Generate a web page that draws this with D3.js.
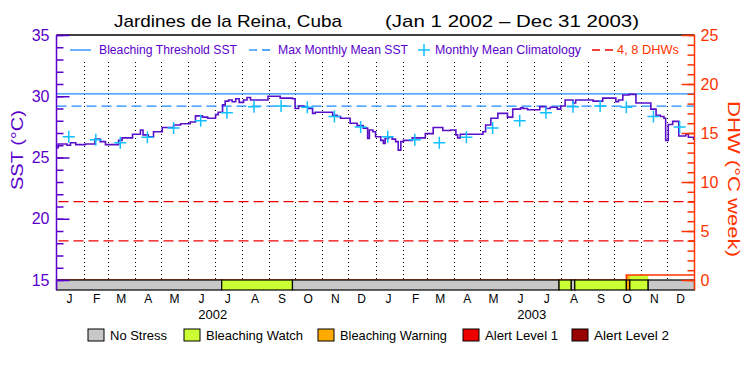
<!DOCTYPE html>
<html>
<head>
<meta charset="utf-8">
<script src="https://cdn.jsdelivr.net/npm/d3@7"></script>
<style>
body { margin: 0; background: #fff; }
svg { display: block; }
text { font-family: "Liberation Sans", Arial, sans-serif; }
</style>
</head>
<body>
<svg width="750" height="375"></svg>
<script>
// daily SST, sampled where the curve changes (days since Jan 1 2002)
var sstDay = [0, 2, 12, 16, 22, 33, 44, 50, 56, 71, 75, 87, 96, 99, 105, 111, 121, 134, 142, 153,
	159, 167, 173, 182, 185, 190, 193, 197, 201, 205, 209, 214, 218, 222, 242, 256, 270, 273, 277, 283,
	288, 293, 296, 316, 321, 325, 336, 344, 351, 356, 358, 362, 365, 371, 374, 376, 380, 384, 388, 391,
	394, 397, 407, 422, 431, 442, 451, 457, 459, 462, 488, 491, 497, 505, 516, 522, 531, 534, 539, 553,
	560, 565, 573, 577, 582, 591, 594, 614, 625, 640, 643, 648, 655, 663, 680, 686, 691, 695, 697, 700,
	705, 712, 720, 723, 729, 730];
var sstVal = [25.8, 26.1, 26.0, 26.2, 26.05, 26.1, 26.5, 26.3, 26.05, 26.4, 26.6, 26.9, 27.25, 26.85, 26.7, 27.1, 27.45, 27.65, 27.75, 27.9,
	28.4, 28.3, 28.2, 28.5, 28.7, 29.3, 29.6, 29.7, 29.55, 29.8, 29.5, 29.7, 29.9, 29.7, 30.0, 29.85, 29.8, 29.0, 29.2, 29.1,
	29.0, 28.6, 28.7, 28.45, 28.35, 28.2, 27.8, 27.6, 27.4, 26.55, 27.25, 27.1, 26.7, 26.4, 26.15, 26.55, 26.7, 26.5, 26.3, 25.6,
	26.3, 26.4, 26.6, 26.95, 27.45, 27.2, 27.25, 26.85, 26.6, 26.9, 27.1, 27.65, 28.2, 28.6, 28.3, 28.95, 29.05, 29.0, 28.9, 29.15,
	29.0, 29.1, 28.95, 29.2, 29.7, 29.45, 29.7, 29.6, 29.85, 29.55, 29.7, 30.1, 30.15, 29.45, 28.95, 28.45, 28.35, 28.2, 26.4, 27.7,
	27.95, 26.75, 26.9, 26.65, 26.5, 26.5];

// monthly mean climatology (Jan..Dec)
var climVal = [26.7, 26.45, 26.2, 26.65, 27.4, 28.0, 28.65, 29.15, 29.2, 29.1, 28.35, 27.5];
var mmm = 29.2;
var threshold = 30.2;
var dhwLines = [4, 8];

// degree heating weeks
var dhwDay = [0, 652, 730];
var dhwVal = [0, 0.5, 0.5];

// stress level periods
var stressDay = [0, 189, 270, 575, 589, 593, 652, 656, 677, 730];
var stressLevel = [0, 1, 0, 1, 0, 1, 2, 1, 0];
var stressNames = ["No Stress", "Bleaching Watch", "Bleaching Warning", "Alert Level 1", "Alert Level 2"];
var stressColors = ["#c8c8c8", "#ccff33", "#ffaa00", "#ee0000", "#990000"];

var monthLetters = ["J", "F", "M", "A", "M", "J", "J", "A", "S", "O", "N", "D"];
var years = [2002, 2003];
var sstTicks = [15, 20, 25, 30, 35];
var dhwTicks = [0, 5, 10, 15, 20, 25];

var purple = "#5a00cc", lineCol = "#5a10c8", blue = "#1a8cff", cyan = "#10c0ff", orange = "#ff3300", red = "#ee0000";
var pLeft = 56.5, pRight = 694.5, pTop = 35, pBase = 280, barBottom = 290;

var t0 = Date.UTC(2002, 0, 1);
function day(d) { return new Date(t0 + d * 864e5); }

var svg = d3.select("svg");

var x = d3.scaleUtc().domain([day(0), day(730)]).range([pLeft, pRight]);
var y = d3.scaleLinear().domain([15, 35]).range([pBase, pTop]);
var y2 = d3.scaleLinear().domain([0, 25]).range([pBase, pTop]);

// title
svg.append("text").attr("x", 114).attr("y", 27).attr("font-size", 17)
	.attr("textLength", 228).attr("lengthAdjust", "spacingAndGlyphs").text("Jardines de la Reina, Cuba");
svg.append("text").attr("x", 385).attr("y", 27).attr("font-size", 17)
	.attr("textLength", 254).attr("lengthAdjust", "spacingAndGlyphs").text("(Jan 1 2002 \u2013 Dec 31 2003)");

// month dotted lines
var months = d3.utcMonth.range(day(1), day(730));
svg.append("g").selectAll("line").data(months).enter().append("line")
	.attr("x1", function(d) { return Math.round(x(d)) + 0.5; })
	.attr("x2", function(d) { return Math.round(x(d)) + 0.5; })
	.attr("y1", 62).attr("y2", pBase)
	.attr("stroke", "#000").attr("stroke-width", 1).attr("stroke-dasharray", "1,3");

// reference lines
svg.append("line").attr("x1", pLeft).attr("x2", pRight).attr("y1", y(threshold)).attr("y2", y(threshold))
	.attr("stroke", blue).attr("stroke-width", 1.3);
svg.append("line").attr("x1", pLeft).attr("x2", pRight).attr("y1", y(mmm)).attr("y2", y(mmm))
	.attr("stroke", blue).attr("stroke-width", 1.3).attr("stroke-dasharray", "10,5");
svg.append("g").selectAll("line").data(dhwLines).enter().append("line")
	.attr("x1", pLeft + 2).attr("x2", pRight).attr("y1", function(d) { return y2(d); }).attr("y2", function(d) { return y2(d); })
	.attr("stroke", red).attr("stroke-width", 1.3).attr("stroke-dasharray", "10,5");

// SST line
var sst = sstDay.map(function(d, i) { return [day(d), sstVal[i]]; });
svg.append("path").datum(sst)
	.attr("fill", "none").attr("stroke", lineCol).attr("stroke-width", 1.6)
	.attr("d", d3.line().curve(d3.curveStepAfter)
		.x(function(d) { return x(d[0]); }).y(function(d) { return y(d[1]); }));

// climatology crosses
var clim = [];
years.forEach(function(yr) {
	climVal.forEach(function(v, m) { clim.push([new Date(Date.UTC(yr, m, 15)), v]); });
});
svg.append("g").selectAll("path").data(clim).enter().append("path")
	.attr("transform", function(d) { return "translate(" + x(d[0]) + "," + y(d[1]) + ")"; })
	.attr("d", "M-6,0H6M0,-6V6").attr("stroke", cyan).attr("stroke-width", 1.5);

// DHW fill by stress colour, then DHW line
function dhwAt(d) {
	var v = 0;
	for (var i = 0; i < dhwDay.length; i++) if (dhwDay[i] <= d) v = dhwVal[i];
	return v;
}
for (var i = 0; i < stressLevel.length; i++) {
	var h = dhwAt(stressDay[i]);
	if (stressLevel[i] > 0 && h > 0) {
		svg.append("rect").attr("x", x(day(stressDay[i]))).attr("y", y2(h))
			.attr("width", x(day(stressDay[i + 1])) - x(day(stressDay[i])))
			.attr("height", y2(0) - y2(h)).attr("fill", stressColors[stressLevel[i]]);
	}
}
var dhw = dhwDay.map(function(d, i) { return [day(d), dhwVal[i]]; });
svg.append("path").datum(dhw)
	.attr("fill", "none").attr("stroke", orange).attr("stroke-width", 1.5)
	.attr("d", d3.line().curve(d3.curveStepAfter)
		.x(function(d) { return x(d[0]); }).y(function(d) { return y2(d[1]); }));

// stress bar
svg.append("g").selectAll("rect").data(stressLevel).enter().append("rect")
	.attr("x", function(d, i) { return x(day(stressDay[i])); })
	.attr("width", function(d, i) { return x(day(stressDay[i + 1])) - x(day(stressDay[i])); })
	.attr("y", pBase).attr("height", barBottom - pBase)
	.attr("fill", function(d) { return stressColors[d]; })
	.attr("stroke", "#000").attr("stroke-width", 1.2);

// top border
svg.append("line").attr("x1", pLeft).attr("x2", pRight).attr("y1", pTop).attr("y2", pTop)
	.attr("stroke", "#000").attr("stroke-width", 1.5);

// left axis
var gl = svg.append("g").attr("transform", "translate(" + pLeft + ",0)");
gl.call(d3.axisLeft(y).ticks(20).tickSize(-7).tickFormat(""));
gl.append("g").call(d3.axisLeft(y).tickValues(sstTicks).tickSize(-13).tickPadding(7));
gl.selectAll(".domain").remove();
gl.selectAll("line").attr("stroke", purple).attr("stroke-width", 1.5);
gl.selectAll("text").attr("fill", purple).attr("font-size", 16)
	.attr("font-family", "'Liberation Sans', Arial, sans-serif");
svg.append("line").attr("x1", pLeft).attr("x2", pLeft).attr("y1", pTop).attr("y2", barBottom)
	.attr("stroke", purple).attr("stroke-width", 1.5);

// right axis
var gr = svg.append("g").attr("transform", "translate(" + pRight + ",0)");
gr.call(d3.axisRight(y2).ticks(25).tickSize(-7).tickFormat(""));
gr.append("g").call(d3.axisRight(y2).tickValues(dhwTicks).tickSize(-13).tickPadding(6));
gr.selectAll(".domain").remove();
gr.selectAll("line").attr("stroke", orange).attr("stroke-width", 1.5);
gr.selectAll("text").attr("fill", orange).attr("font-size", 16)
	.attr("font-family", "'Liberation Sans', Arial, sans-serif");
svg.append("line").attr("x1", pRight).attr("x2", pRight).attr("y1", pTop).attr("y2", barBottom)
	.attr("stroke", orange).attr("stroke-width", 1.5);

// axis titles
svg.append("text").attr("transform", "translate(23,150) rotate(-90)")
	.attr("text-anchor", "middle").attr("font-size", 16).attr("fill", purple)
	.attr("textLength", 80).attr("lengthAdjust", "spacingAndGlyphs").text("SST (\u00b0C)");
svg.append("text").attr("transform", "translate(728,179) rotate(90)")
	.attr("text-anchor", "middle").attr("font-size", 16).attr("fill", orange)
	.attr("textLength", 156).attr("lengthAdjust", "spacingAndGlyphs").text("DHW (\u00b0C week)");

// month and year labels
var mids = [];
years.forEach(function(yr) {
	for (var m = 0; m < 12; m++) mids.push([new Date(Date.UTC(yr, m, 16)), monthLetters[m]]);
});
svg.append("g").selectAll("text").data(mids).enter().append("text")
	.attr("x", function(d) { return x(d[0]); }).attr("y", 303)
	.attr("text-anchor", "middle").attr("font-size", 12).text(function(d) { return d[1]; });
svg.append("g").selectAll("text").data(years).enter().append("text")
	.attr("x", function(d) { return x(new Date(Date.UTC(d, 6, 1))) - 2; }).attr("y", 319)
	.attr("text-anchor", "middle").attr("font-size", 13).text(function(d) { return d; });

// top legend
var ly = 50;
svg.append("line").attr("x1", 70).attr("x2", 91).attr("y1", ly).attr("y2", ly).attr("stroke", blue).attr("stroke-width", 1.3);
svg.append("line").attr("x1", 249).attr("x2", 273).attr("y1", ly).attr("y2", ly).attr("stroke", blue)
	.attr("stroke-width", 1.3).attr("stroke-dasharray", "8,5");
svg.append("path").attr("transform", "translate(424," + ly + ")").attr("d", "M-6,0H6M0,-6V6")
	.attr("stroke", cyan).attr("stroke-width", 1.5);
svg.append("line").attr("x1", 592).attr("x2", 614).attr("y1", ly).attr("y2", ly).attr("stroke", red)
	.attr("stroke-width", 1.3).attr("stroke-dasharray", "8,5");
var legText = [["Bleaching Threshold SST", 99, 138, purple], ["Max Monthly Mean SST", 278, 130, purple],
	["Monthly Mean Climatology", 435, 146, purple], ["4, 8 DHWs", 617, 62, orange]];
svg.append("g").selectAll("text").data(legText).enter().append("text")
	.attr("x", function(d) { return d[1]; }).attr("y", ly + 4).attr("font-size", 12)
	.attr("textLength", function(d) { return d[2]; }).attr("lengthAdjust", "spacingAndGlyphs")
	.attr("fill", function(d) { return d[3]; }).text(function(d) { return d[0]; });

// stress legend
var boxX = [88, 184, 318, 463, 572];
var txtW = [57, 97, 107, 73, 75];
var gs = svg.append("g").selectAll("g").data(stressNames).enter().append("g")
	.attr("transform", function(d, i) { return "translate(" + boxX[i] + ",329)"; });
gs.append("rect").attr("width", 16).attr("height", 12)
	.attr("fill", function(d, i) { return stressColors[i]; }).attr("stroke", "#000").attr("stroke-width", 1);
gs.append("text").attr("x", 22).attr("y", 11).attr("font-size", 13)
	.attr("textLength", function(d, i) { return txtW[i]; }).attr("lengthAdjust", "spacingAndGlyphs")
	.text(function(d) { return d; });
</script>
</body>
</html>
